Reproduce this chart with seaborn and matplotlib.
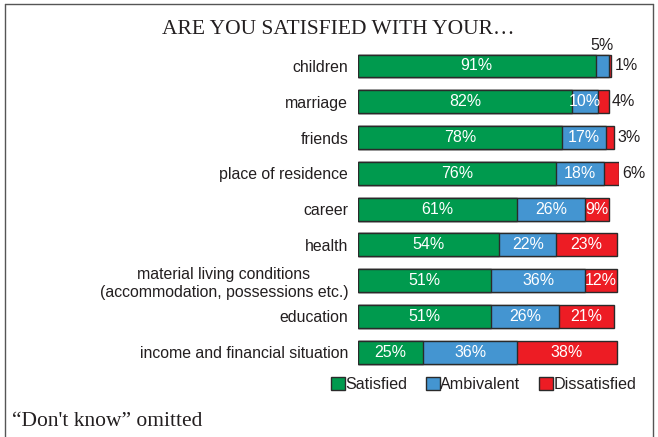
import matplotlib
matplotlib.use("Agg")
import matplotlib.pyplot as plt
import seaborn as sns
import pandas as pd
import numpy as np
from matplotlib.patches import Patch
from matplotlib.lines import Line2D

categories = ["children", "marriage", "friends", "place of residence", "career",
              "health", "material living conditions\n(accommodation, possessions etc.)",
              "education", "income and financial situation"]
satisfied = [91, 82, 78, 76, 61, 54, 51, 51, 25]
ambivalent = [5, 10, 17, 18, 26, 22, 36, 26, 36]
dissatisfied = [1, 4, 3, 6, 9, 23, 12, 21, 38]
series_names = ["Satisfied", "Ambivalent", "Dissatisfied"]
colors = ["#009A4E", "#4495D1", "#ED1C24"]

df = pd.DataFrame({"category": categories, "Satisfied": satisfied,
                   "Ambivalent": ambivalent, "Dissatisfied": dissatisfied})
df["c2"] = df["Satisfied"] + df["Ambivalent"]
df["c3"] = df["c2"] + df["Dissatisfied"]

sns.set_theme(style="white")
plt.rcParams['font.family'] = ['Liberation Sans', 'DejaVu Sans']

fig = plt.figure(figsize=(6.58, 4.37), dpi=100)
ax = fig.add_axes([0.544, 0.153, 0.397, 0.737])

edge = "#2a2a2a"
bw = 0.64
sns.barplot(data=df, y="category", x="c3", color=colors[2], orient="h", ax=ax,
            width=bw, edgecolor=edge, linewidth=1, saturation=1)
sns.barplot(data=df, y="category", x="c2", color=colors[1], orient="h", ax=ax,
            width=bw, edgecolor=edge, linewidth=1, saturation=1)
sns.barplot(data=df, y="category", x="Satisfied", color=colors[0], orient="h", ax=ax,
            width=bw, edgecolor=edge, linewidth=1, saturation=1)

ax.set_xlim(0, 100)
ax.set_ylim(len(categories) - 0.5, -0.5)
ax.set_xlabel("")
ax.set_ylabel("")
ax.set_xticks([])
for s in ax.spines.values():
    s.set_visible(False)
ax.tick_params(axis="y", length=0, pad=7, labelsize=11.4, labelcolor="#231F20")
for t in ax.get_yticklabels():
    t.set_multialignment("center")

dark = "#231F20"
fs = 11.5
for i in range(len(categories)):
    s, a, d = satisfied[i], ambivalent[i], dissatisfied[i]
    ax.text(s / 2, i, f"{s}%", ha="center", va="center", color="white", fontsize=fs)
    if a < 7:
        ax.text(s + a / 2, i - bw / 2 - 0.03, f"{a}%", ha="center", va="bottom",
                color=dark, fontsize=fs)
    else:
        ax.text(s + a / 2, i, f"{a}%", ha="center", va="center", color="white", fontsize=fs)
    if d < 7:
        ax.text(s + a + d + 1.2, i, f"{d}%", ha="left", va="center", color=dark, fontsize=fs)
    else:
        ax.text(s + a + d / 2, i, f"{d}%", ha="center", va="center", color="white", fontsize=fs)

handles = [Patch(facecolor=c, edgecolor=edge, linewidth=1, label=n)
           for c, n in zip(colors, series_names)]
fig.legend(handles=handles, loc="center", bbox_to_anchor=(0.735, 0.119), ncol=3,
           frameon=False, fontsize=11.6, handlelength=0.85, handleheight=0.85,
           handletextpad=0.05, columnspacing=1.15, labelcolor=dark)

fig.text(0.514, 0.932, "ARE YOU SATISFIED WITH YOUR…", ha="center", va="center",
         family=["Liberation Serif", "DejaVu Serif"], fontsize=15.5, color=dark)
fig.text(0.018, 0.035, "“Don't know” omitted", ha="left", va="center",
         family=["Liberation Serif", "DejaVu Serif"], fontsize=15.5, color=dark)

# frame lines
fig.add_artist(Line2D([0.008, 0.008], [0.0, 0.99], transform=fig.transFigure, color="#555555", lw=1))
fig.add_artist(Line2D([0.008, 0.992], [0.99, 0.99], transform=fig.transFigure, color="#555555", lw=1))
fig.add_artist(Line2D([0.992, 0.992], [0.0, 0.99], transform=fig.transFigure, color="#555555", lw=1))

fig.savefig("out.png", dpi=100)
